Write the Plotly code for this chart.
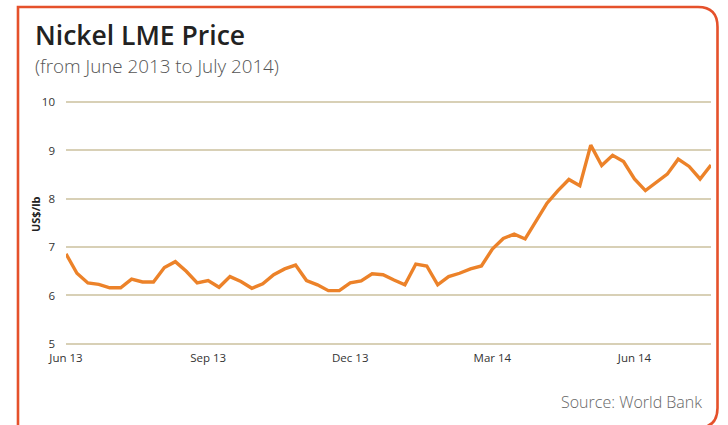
import plotly.graph_objects as go
import pandas as pd

# Weekly Nickel LME price, US$/lb
weeks = pd.date_range("2013-06-03", periods=60, freq="7D")
price = [6.86, 6.46, 6.26, 6.23, 6.16, 6.16, 6.34, 6.28, 6.28, 6.58,
         6.70, 6.50, 6.26, 6.31, 6.17, 6.39, 6.29, 6.15, 6.24, 6.43,
         6.55, 6.63, 6.31, 6.22, 6.10, 6.10, 6.26, 6.30, 6.45, 6.43,
         6.32, 6.22, 6.65, 6.61, 6.22, 6.39, 6.46, 6.55, 6.61, 6.96,
         7.18, 7.27, 7.17, 7.53, 7.91, 8.17, 8.40, 8.27, 9.11, 8.69,
         8.90, 8.77, 8.41, 8.17, 8.35, 8.51, 8.82, 8.67, 8.41, 8.70]
tick_dates = ["2013-06-03", "2013-09-02", "2013-12-02", "2014-03-03", "2014-06-02"]
tick_labels = ["Jun 13", "Sep 13", "Dec 13", "Mar 14", "Jun 14"]
y_ticks = [5, 6, 7, 8, 9, 10]

W, H = 728, 425
ML, MR, MT, MB = 66, 17, 100, 79
PW, PH = W - ML - MR, H - MT - MB

def px(x):
    return (x - ML) / PW

def py(y):
    return (H - MB - y) / PH

fig = go.Figure()
fig.add_trace(go.Scatter(
    x=weeks, y=price, mode="lines",
    line=dict(color="#EC8229", width=3.4),
    hoverinfo="skip", showlegend=False,
))

FONT = "Open Sans"
fig.update_layout(
    width=W, height=H,
    margin=dict(l=ML, r=MR, t=MT, b=MB),
    paper_bgcolor="white", plot_bgcolor="white",
    font=dict(family=FONT, color="#333", size=11),
    xaxis=dict(
        range=[weeks[0], weeks[-1]],
        tickvals=tick_dates, ticktext=tick_labels,
        showgrid=False, zeroline=False, showline=False, ticks="",
        ticklabelstandoff=3,
        tickfont=dict(size=11.5, color="#333"),
    ),
    yaxis=dict(
        range=[4.955, 10.044], tickvals=y_ticks,
        showgrid=True, gridcolor="#D8D0B6", gridwidth=1.6,
        zeroline=False, showline=False, ticks="",
        ticklabelstandoff=10,
        tickfont=dict(size=11.5, color="#333"),
    ),
)

# Border (rounded card)
def P(x, y):
    return f"{px(x):.5f},{py(y):.5f}"

path = (f"M {P(18, 440)} L {P(18, 7)} L {P(698, 7)} "
        f"Q {P(717.5, 7)} {P(717.5, 27)} L {P(717.5, 408)} "
        f"Q {P(717.5, 428)} {P(697, 428)} L {P(18, 428)} Z")
fig.add_shape(type="path", xref="paper", yref="paper", path=path,
              line=dict(color="#E5512B", width=2.6), fillcolor="rgba(0,0,0,0)",
              layer="above")

fig.add_annotation(text="Nickel LME Price", xref="paper", yref="paper",
                   x=px(33), y=py(35), xanchor="left", yanchor="middle",
                   showarrow=False,
                   font=dict(family=FONT, size=26.5, weight=600, color="#222"))
fig.add_annotation(text="(from June 2013 to July 2014)", xref="paper", yref="paper",
                   x=px(33), y=py(66), xanchor="left", yanchor="middle",
                   showarrow=False,
                   font=dict(family=FONT, size=18.8, weight=300, color="#555"))
fig.add_annotation(text="<b>US$/lb</b>", xref="paper", yref="paper",
                   x=px(35), y=py(214), xanchor="center", yanchor="middle",
                   textangle=-90, showarrow=False,
                   font=dict(family=FONT, size=11, color="#222"))
fig.add_annotation(text="Source: World Bank", xref="paper", yref="paper",
                   x=px(704), y=py(402), xanchor="right", yanchor="middle",
                   showarrow=False,
                   font=dict(family=FONT, size=16, weight=300, color="#666"))

fig.write_html("out.html", config={"displayModeBar": False},
               post_script="document.body.style.margin='0px';")
